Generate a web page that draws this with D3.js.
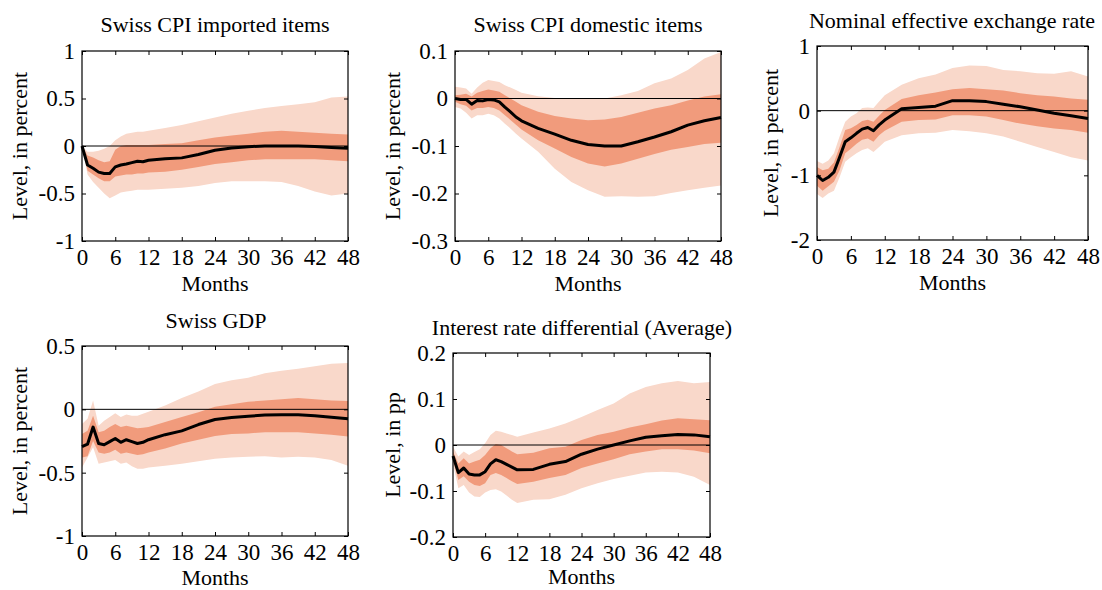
<!DOCTYPE html>
<html>
<head>
<meta charset="utf-8">
<script src="https://d3js.org/d3.v7.min.js"></script>
<style>
  body { margin: 0; background: #fff; }
  svg text { font-family: "Liberation Serif", "Times New Roman", serif; fill: #000; }
</style>
</head>
<body>
<div id="chart"></div>
<script>
  // months on the horizontal axis (monthly first year, then quarterly)
  var months = [0,1,2,3,4,5,6,7,8,9,10,11,12,15,18,21,24,27,30,33,36,39,42,45,48];
  var xTicks = [0,6,12,18,24,30,36,42,48];

  // Swiss CPI imported items
  var impMed  = [0,-0.2,-0.235,-0.275,-0.29,-0.29,-0.22,-0.2,-0.19,-0.175,-0.16,-0.165,-0.15,-0.135,-0.125,-0.09,-0.045,-0.02,-0.007,0,0,0,-0.005,-0.015,-0.025];
  var impLo68 = [0,-0.26,-0.3,-0.34,-0.37,-0.37,-0.32,-0.31,-0.3,-0.3,-0.29,-0.29,-0.28,-0.27,-0.25,-0.22,-0.19,-0.17,-0.15,-0.14,-0.14,-0.14,-0.14,-0.15,-0.16];
  var impHi68 = [0,-0.1,-0.12,-0.15,-0.17,-0.16,-0.04,0,0.01,0.01,0.01,0.01,0.01,0.02,0.03,0.06,0.09,0.11,0.13,0.15,0.16,0.15,0.14,0.13,0.12];
  var impLo90 = [0,-0.3,-0.38,-0.44,-0.5,-0.55,-0.52,-0.49,-0.48,-0.47,-0.46,-0.46,-0.46,-0.45,-0.44,-0.42,-0.39,-0.37,-0.37,-0.37,-0.38,-0.42,-0.48,-0.52,-0.5];
  var impHi90 = [0,-0.06,-0.06,-0.05,-0.03,0,0.06,0.1,0.13,0.14,0.15,0.15,0.16,0.19,0.22,0.26,0.3,0.34,0.37,0.4,0.42,0.44,0.46,0.51,0.52];
  var impTicks = [-1,-0.5,0,0.5,1];

  // Swiss CPI domestic items
  var domMed  = [0,-0.002,-0.002,-0.012,-0.004,-0.005,-0.002,-0.003,-0.007,-0.018,-0.028,-0.039,-0.047,-0.063,-0.075,-0.088,-0.097,-0.1,-0.1,-0.091,-0.081,-0.07,-0.056,-0.047,-0.04];
  var domLo68 = [-0.007,-0.012,-0.015,-0.025,-0.02,-0.02,-0.018,-0.02,-0.025,-0.035,-0.045,-0.055,-0.065,-0.088,-0.105,-0.123,-0.137,-0.143,-0.137,-0.127,-0.117,-0.108,-0.102,-0.096,-0.093];
  var domHi68 = [0.007,0.008,0.01,0.004,0.012,0.016,0.019,0.017,0.014,0.007,0.0,-0.007,-0.014,-0.028,-0.037,-0.042,-0.046,-0.044,-0.039,-0.03,-0.021,-0.014,-0.004,0.004,0.009];
  var domLo90 = [-0.018,-0.021,-0.03,-0.042,-0.035,-0.035,-0.032,-0.035,-0.042,-0.053,-0.063,-0.074,-0.084,-0.112,-0.148,-0.176,-0.193,-0.207,-0.206,-0.207,-0.206,-0.199,-0.193,-0.188,-0.183];
  var domHi90 = [0.025,0.023,0.021,0.01,0.023,0.033,0.039,0.037,0.035,0.028,0.023,0.018,0.012,0.005,0.001,0,-0.001,0,0.007,0.016,0.032,0.042,0.06,0.084,0.098];
  var domTicks = [-0.3,-0.2,-0.1,0,0.1];

  // Nominal effective exchange rate
  var neerMed  = [-1.0,-1.08,-1.03,-0.95,-0.72,-0.48,-0.42,-0.35,-0.285,-0.26,-0.31,-0.22,-0.145,0.03,0.05,0.07,0.155,0.155,0.14,0.1,0.06,0.01,-0.04,-0.08,-0.12];
  var neerLo68 = [-1.16,-1.24,-1.17,-1.1,-0.92,-0.66,-0.59,-0.51,-0.45,-0.43,-0.48,-0.38,-0.31,-0.17,-0.145,-0.135,-0.07,-0.07,-0.09,-0.145,-0.2,-0.24,-0.275,-0.3,-0.34];
  var neerHi68 = [-0.87,-0.92,-0.9,-0.8,-0.56,-0.3,-0.27,-0.22,-0.16,-0.14,-0.17,-0.08,0.01,0.18,0.24,0.28,0.33,0.35,0.33,0.31,0.27,0.24,0.22,0.19,0.17];
  var neerLo90 = [-1.29,-1.35,-1.28,-1.24,-1.03,-0.79,-0.72,-0.66,-0.61,-0.58,-0.64,-0.56,-0.48,-0.38,-0.35,-0.34,-0.3,-0.32,-0.35,-0.4,-0.48,-0.56,-0.64,-0.72,-0.77];
  var neerHi90 = [-0.78,-0.82,-0.77,-0.66,-0.4,-0.17,-0.09,-0.04,0.04,0.05,0.04,0.14,0.24,0.4,0.5,0.56,0.66,0.7,0.69,0.63,0.61,0.58,0.57,0.61,0.53];
  var neerTicks = [-2,-1,0,1];

  // Swiss GDP
  var gdpMed  = [-0.295,-0.275,-0.14,-0.27,-0.28,-0.255,-0.23,-0.26,-0.24,-0.255,-0.27,-0.26,-0.24,-0.2,-0.17,-0.12,-0.08,-0.065,-0.055,-0.045,-0.042,-0.042,-0.05,-0.063,-0.075];
  var gdpLo68 = [-0.38,-0.37,-0.25,-0.34,-0.35,-0.34,-0.32,-0.35,-0.34,-0.35,-0.36,-0.355,-0.34,-0.31,-0.27,-0.24,-0.21,-0.195,-0.19,-0.18,-0.18,-0.18,-0.19,-0.2,-0.215];
  var gdpHi68 = [-0.195,-0.17,-0.05,-0.18,-0.17,-0.14,-0.115,-0.14,-0.13,-0.14,-0.15,-0.145,-0.14,-0.1,-0.06,-0.024,0.02,0.04,0.06,0.07,0.08,0.09,0.08,0.07,0.065];
  var gdpLo90 = [-0.46,-0.38,-0.3,-0.43,-0.42,-0.41,-0.4,-0.43,-0.42,-0.45,-0.47,-0.47,-0.46,-0.445,-0.43,-0.41,-0.39,-0.38,-0.375,-0.37,-0.38,-0.375,-0.38,-0.4,-0.445];
  var gdpHi90 = [-0.115,-0.075,0.07,-0.13,-0.09,-0.06,-0.03,-0.06,-0.04,-0.05,-0.05,-0.035,-0.02,0.03,0.09,0.14,0.2,0.23,0.25,0.285,0.305,0.32,0.34,0.36,0.365];
  var gdpTicks = [-1,-0.5,0,0.5];

  // Interest rate differential (Average)
  var irdMed  = [-0.024,-0.06,-0.05,-0.063,-0.065,-0.065,-0.058,-0.041,-0.032,-0.036,-0.042,-0.048,-0.054,-0.053,-0.042,-0.036,-0.02,-0.009,0,0.009,0.017,0.02,0.023,0.022,0.018];
  var irdLo68 = [-0.032,-0.076,-0.068,-0.08,-0.087,-0.089,-0.083,-0.065,-0.061,-0.065,-0.072,-0.079,-0.085,-0.08,-0.072,-0.065,-0.05,-0.04,-0.031,-0.02,-0.014,-0.009,-0.009,-0.012,-0.018];
  var irdHi68 = [-0.014,-0.04,-0.029,-0.04,-0.036,-0.032,-0.022,-0.007,0.002,0.0,-0.007,-0.014,-0.02,-0.017,-0.007,-0.004,0.011,0.022,0.029,0.038,0.045,0.053,0.058,0.056,0.054];
  var irdLo90 = [-0.04,-0.094,-0.087,-0.103,-0.112,-0.113,-0.103,-0.098,-0.096,-0.101,-0.11,-0.119,-0.126,-0.119,-0.118,-0.108,-0.094,-0.083,-0.074,-0.067,-0.06,-0.058,-0.06,-0.069,-0.087];
  var irdHi90 = [-0.004,-0.025,-0.014,-0.022,-0.015,-0.009,0.004,0.022,0.031,0.029,0.025,0.022,0.018,0.027,0.036,0.047,0.061,0.076,0.09,0.112,0.126,0.134,0.139,0.134,0.137];
  var irdTicks = [-0.2,-0.1,0,0.1,0.2];

  var lightFill = "#f9d8ca";
  var darkFill = "#f19b7c";

  var panels = [
    {title: "Swiss CPI imported items", ylab: "Level, in percent", ticks: impTicks,
     med: impMed, lo68: impLo68, hi68: impHi68, lo90: impLo90, hi90: impHi90,
     x0: 82, y0: 51, x1: 348, y1: 241, tx: 215, ty: 32, lx: 27, my: 50},
    {title: "Swiss CPI domestic items", ylab: "Level, in percent", ticks: domTicks,
     med: domMed, lo68: domLo68, hi68: domHi68, lo90: domLo90, hi90: domHi90,
     x0: 455, y0: 51, x1: 721, y1: 241, tx: 588, ty: 32, lx: 400, my: 50},
    {title: "Nominal effective exchange rate", ylab: "Level, in percent", ticks: neerTicks,
     med: neerMed, lo68: neerLo68, hi68: neerHi68, lo90: neerLo90, hi90: neerHi90,
     x0: 817, y0: 46, x1: 1088, y1: 240, tx: 952, ty: 28, lx: 778, my: 50},
    {title: "Swiss GDP", ylab: "Level, in percent", ticks: gdpTicks,
     med: gdpMed, lo68: gdpLo68, hi68: gdpHi68, lo90: gdpLo90, hi90: gdpHi90,
     x0: 82, y0: 346, x1: 348, y1: 536, tx: 216, ty: 328, lx: 27, my: 49},
    {title: "Interest rate differential (Average)", ylab: "Level, in pp", ticks: irdTicks,
     med: irdMed, lo68: irdLo68, hi68: irdHi68, lo90: irdLo90, hi90: irdHi90,
     x0: 453, y0: 353, x1: 710, y1: 537, tx: 582, ty: 335, lx: 400, my: 47}
  ];

  var svg = d3.select("#chart").append("svg")
    .attr("width", 1102)
    .attr("height", 590);

  panels.forEach(function(p) {
    var x = d3.scaleLinear().domain([0, 48]).range([p.x0, p.x1]);
    var y = d3.scaleLinear().domain(d3.extent(p.ticks)).range([p.y1, p.y0]);
    var g = svg.append("g");

    var band = function(lo, hi) {
      return d3.area()
        .x(function(d, i) { return x(months[i]); })
        .y0(function(d, i) { return y(lo[i]); })
        .y1(function(d, i) { return y(hi[i]); })(months);
    };

    g.append("path").attr("d", band(p.lo90, p.hi90)).attr("fill", lightFill);
    g.append("path").attr("d", band(p.lo68, p.hi68)).attr("fill", darkFill);

    // zero line
    g.append("line")
      .attr("x1", p.x0).attr("x2", p.x1)
      .attr("y1", y(0)).attr("y2", y(0))
      .attr("stroke", "#000").attr("stroke-width", 1);

    // median response
    g.append("path")
      .datum(p.med)
      .attr("d", d3.line()
        .x(function(d, i) { return x(months[i]); })
        .y(function(d) { return y(d); }))
      .attr("fill", "none")
      .attr("stroke", "#000")
      .attr("stroke-width", 3)
      .attr("stroke-linejoin", "round");

    // axes: ticks point inward on all four sides
    var fmt = function(d) { return String(d); };
    var bottom = g.append("g").attr("transform", "translate(0," + p.y1 + ")")
      .call(d3.axisBottom(x).tickValues(xTicks).tickSizeInner(-4).tickSizeOuter(0).tickPadding(8).tickFormat(fmt));
    var top = g.append("g").attr("transform", "translate(0," + p.y0 + ")")
      .call(d3.axisTop(x).tickValues(xTicks).tickSizeInner(-4).tickSizeOuter(0).tickFormat(""));
    var left = g.append("g").attr("transform", "translate(" + p.x0 + ",0)")
      .call(d3.axisLeft(y).tickValues(p.ticks).tickSizeInner(-4).tickSizeOuter(0).tickPadding(7).tickFormat(fmt));
    var right = g.append("g").attr("transform", "translate(" + p.x1 + ",0)")
      .call(d3.axisRight(y).tickValues(p.ticks).tickSizeInner(-4).tickSizeOuter(0).tickFormat(""));

    [bottom, top, left, right].forEach(function(a) {
      a.attr("font-family", null).attr("font-size", null);
      a.select(".domain").remove();
      a.selectAll(".tick line").attr("stroke", "#000");
      a.selectAll("text")
        .style("font-family", "'Liberation Serif', serif")
        .style("font-size", "23px")
        .attr("fill", "#000");
    });

    // frame
    g.append("rect")
      .attr("x", p.x0).attr("y", p.y0)
      .attr("width", p.x1 - p.x0).attr("height", p.y1 - p.y0)
      .attr("fill", "none").attr("stroke", "#000").attr("stroke-width", 1.2);

    g.append("text")
      .attr("x", p.tx).attr("y", p.ty)
      .attr("text-anchor", "middle")
      .style("font-size", "22px")
      .text(p.title);

    g.append("text")
      .attr("x", (p.x0 + p.x1) / 2).attr("y", p.y1 + p.my)
      .attr("text-anchor", "middle")
      .style("font-size", "22px")
      .text("Months");

    g.append("text")
      .attr("transform", "translate(" + p.lx + "," + ((p.y0 + p.y1) / 2) + ") rotate(-90)")
      .attr("text-anchor", "middle")
      .style("font-size", "22px")
      .text(p.ylab);
  });
</script>
</body>
</html>
